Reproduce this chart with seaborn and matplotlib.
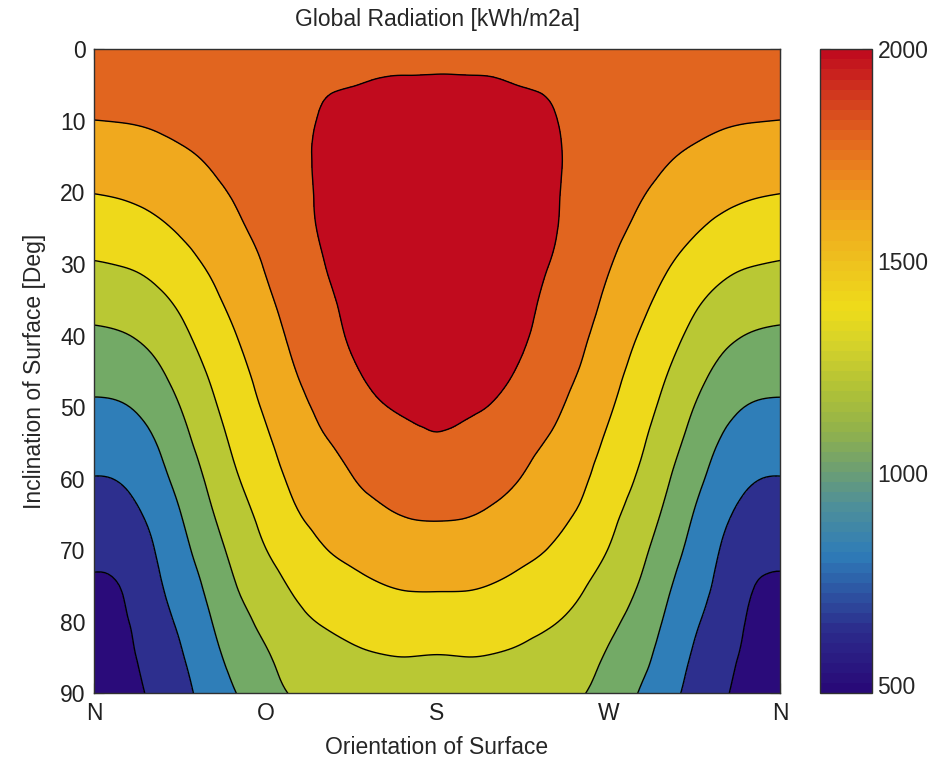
import numpy as np
import matplotlib
matplotlib.use("Agg")
import matplotlib.pyplot as plt
import matplotlib.tri as mtri
from matplotlib.colors import LinearSegmentedColormap, Normalize
from matplotlib.cm import ScalarMappable
import seaborn as sns

# 방위각 (N=0, O=90, S=180, W=270, N=360), 경사각 (0~90)
orientation = np.arange(0, 361, 15)
inclination = np.arange(0, 91, 5)

# 그림에서 읽은 일사량 값 [kWh/m2a] (행 = 경사각, 열 = 방위각)
radiation = [
    [1810, 1810, 1810, 1810, 1810, 1810, 1810, 1810, 1810, 1810, 1810, 1810, 1810, 1810, 1810, 1810, 1810, 1810, 1810, 1810, 1810, 1810, 1810, 1810, 1810],
    [1739, 1742, 1748, 1757, 1768, 1790, 1805, 1812, 1830, 1838, 1850, 1855, 1857, 1855, 1850, 1838, 1830, 1812, 1805, 1790, 1768, 1757, 1748, 1742, 1739],
    [1668, 1674, 1686, 1705, 1726, 1766, 1795, 1814, 1848, 1875, 1900, 1915, 1920, 1915, 1900, 1875, 1848, 1814, 1795, 1766, 1726, 1705, 1686, 1674, 1668],
    [1586, 1596, 1616, 1648, 1684, 1735, 1778, 1815, 1855, 1892, 1930, 1952, 1962, 1952, 1930, 1892, 1855, 1815, 1778, 1735, 1684, 1648, 1616, 1596, 1586],
    [1503, 1517, 1544, 1582, 1632, 1690, 1755, 1811, 1853, 1900, 1945, 1972, 1985, 1972, 1945, 1900, 1853, 1811, 1755, 1690, 1632, 1582, 1544, 1517, 1503],
    [1412, 1429, 1463, 1516, 1574, 1645, 1722, 1798, 1850, 1900, 1950, 1980, 1995, 1980, 1950, 1900, 1850, 1798, 1722, 1645, 1574, 1516, 1463, 1429, 1412],
    [1321, 1337, 1372, 1440, 1516, 1593, 1682, 1774, 1836, 1893, 1948, 1980, 1995, 1980, 1948, 1893, 1836, 1774, 1682, 1593, 1516, 1440, 1372, 1337, 1321],
    [1226, 1244, 1285, 1360, 1458, 1547, 1640, 1738, 1810, 1878, 1938, 1970, 1985, 1970, 1938, 1878, 1810, 1738, 1640, 1547, 1458, 1360, 1285, 1244, 1226],
    [1134, 1151, 1200, 1289, 1399, 1501, 1600, 1700, 1778, 1858, 1915, 1948, 1965, 1948, 1915, 1858, 1778, 1700, 1600, 1501, 1399, 1289, 1200, 1151, 1134],
    [1050, 1065, 1120, 1223, 1341, 1455, 1560, 1664, 1740, 1818, 1880, 1912, 1932, 1912, 1880, 1818, 1740, 1664, 1560, 1455, 1341, 1223, 1120, 1065, 1050],
    [967, 980, 1043, 1158, 1288, 1411, 1519, 1620, 1700, 1768, 1830, 1862, 1885, 1862, 1830, 1768, 1700, 1620, 1519, 1411, 1288, 1158, 1043, 980, 967],
    [890, 906, 971, 1099, 1236, 1366, 1474, 1576, 1654, 1716, 1775, 1795, 1818, 1795, 1775, 1716, 1654, 1576, 1474, 1366, 1236, 1099, 971, 906, 890],
    [815, 832, 912, 1040, 1184, 1320, 1425, 1532, 1600, 1663, 1715, 1730, 1745, 1730, 1715, 1663, 1600, 1532, 1425, 1320, 1184, 1040, 912, 832, 815],
    [751, 772, 852, 983, 1131, 1267, 1376, 1481, 1546, 1598, 1648, 1677, 1684, 1677, 1648, 1598, 1546, 1481, 1376, 1267, 1131, 983, 852, 772, 751],
    [687, 715, 805, 936, 1076, 1214, 1326, 1415, 1490, 1533, 1571, 1595, 1601, 1595, 1571, 1533, 1490, 1415, 1326, 1214, 1076, 936, 805, 715, 687],
    [630, 658, 771, 889, 1022, 1161, 1263, 1349, 1415, 1460, 1493, 1512, 1514, 1512, 1493, 1460, 1415, 1349, 1263, 1161, 1022, 889, 771, 658, 630],
    [584, 629, 738, 842, 971, 1104, 1200, 1289, 1340, 1380, 1407, 1421, 1419, 1421, 1407, 1380, 1340, 1289, 1200, 1104, 971, 842, 738, 629, 584],
    [537, 604, 704, 803, 925, 1047, 1139, 1232, 1268, 1297, 1320, 1328, 1322, 1328, 1320, 1297, 1268, 1232, 1139, 1047, 925, 803, 704, 604, 537],
    [490, 580, 671, 772, 879, 992, 1082, 1175, 1195, 1212, 1222, 1227, 1228, 1227, 1222, 1212, 1195, 1175, 1082, 992, 879, 772, 671, 580, 490],
]

# 등고선 경계값과 각 구간 색
levels = [400, 650, 820, 990, 1160, 1330, 1500, 1670, 1840, 2100]
band_colors = ["#2a0b7a", "#2d2f8e", "#2f7eb8", "#73aa66", "#b9c834",
               "#eed91a", "#f0a91e", "#e1651f", "#c10b1e"]

# 컬러바 색 (값 -> 색)
cbar_values = [480, 620, 800, 920, 1000, 1100, 1200, 1300, 1390, 1500, 1600, 1700, 1800, 1900, 2000]
cbar_colors = ["#280a78", "#2c2c8c", "#2e7cb8", "#4f9098", "#6c9e74", "#92b24a", "#b2c236",
               "#d4d22a", "#eedc1a", "#eec21e", "#f0a81e", "#ec8a1e", "#e2661e", "#d23a1e", "#c00c1e"]

tick_pos = [0, 90, 180, 270, 360]
tick_names = ["N", "O", "S", "W", "N"]

sns.set_style("ticks")
plt.rcParams["font.family"] = ["Liberation Sans", "DejaVu Sans"]

fig = plt.figure(figsize=(9.48, 7.63), dpi=100)
ax = fig.add_axes([0.0992, 0.0913, 0.7236, 0.8440])
cax = fig.add_axes([0.8645, 0.0913, 0.0553, 0.8440])

# 격자 -> 삼각망, 곡선을 부드럽게 (격자 간격 단위로 정규화)
X, Y = np.meshgrid(orientation, inclination)
Z = np.array(radiation, dtype=float).ravel()
tri = mtri.Triangulation(X.ravel() / 15.0, Y.ravel() / 5.0)
interp = mtri.CubicTriInterpolator(tri, Z, kind="min_E")
refiner = mtri.UniformTriRefiner(tri)
tri_r, z_r = refiner.refine_field(Z, triinterpolator=interp, subdiv=3)
tri_r = mtri.Triangulation(tri_r.x * 15.0, tri_r.y * 5.0, tri_r.triangles)

ax.tricontourf(tri_r, z_r, levels=levels, colors=band_colors)
ax.tricontour(tri_r, z_r, levels=levels[1:-1], colors="k", linewidths=1.0)

ax.set_xlim(0, 360)
ax.set_ylim(90, 0)
ax.set_xticks(tick_pos)
ax.set_xticklabels(tick_names)
ax.set_yticks(np.arange(0, 91, 10))
ax.tick_params(direction="in", top=True, right=True, length=7, width=0.8,
               labelsize=16.5, pad=6, colors="#202020")
for s in ax.spines.values():
    s.set_color("#303030")
    s.set_linewidth(1.0)

ax.set_title("Global Radiation [kWh/m2a]", fontsize=16.5, pad=17)
ax.set_xlabel("Orientation of Surface", fontsize=16.5, labelpad=8)
ax.set_ylabel("Inclination of Surface [Deg]", fontsize=16.5, labelpad=10)

pos = [(v - cbar_values[0]) / (cbar_values[-1] - cbar_values[0]) for v in cbar_values]
cmap = LinearSegmentedColormap.from_list("rad", list(zip(pos, cbar_colors)), N=64)
sm = ScalarMappable(norm=Normalize(vmin=480, vmax=2000), cmap=cmap)
cb = fig.colorbar(sm, cax=cax)
cb.set_ticks([500, 1000, 1500, 2000])
cax.tick_params(direction="in", left=True, right=True, length=7, width=0.8,
                labelsize=16.5, pad=4)
cb.outline.set_edgecolor("#303030")
cb.outline.set_linewidth(1.0)

fig.savefig("out.png", dpi=100)
